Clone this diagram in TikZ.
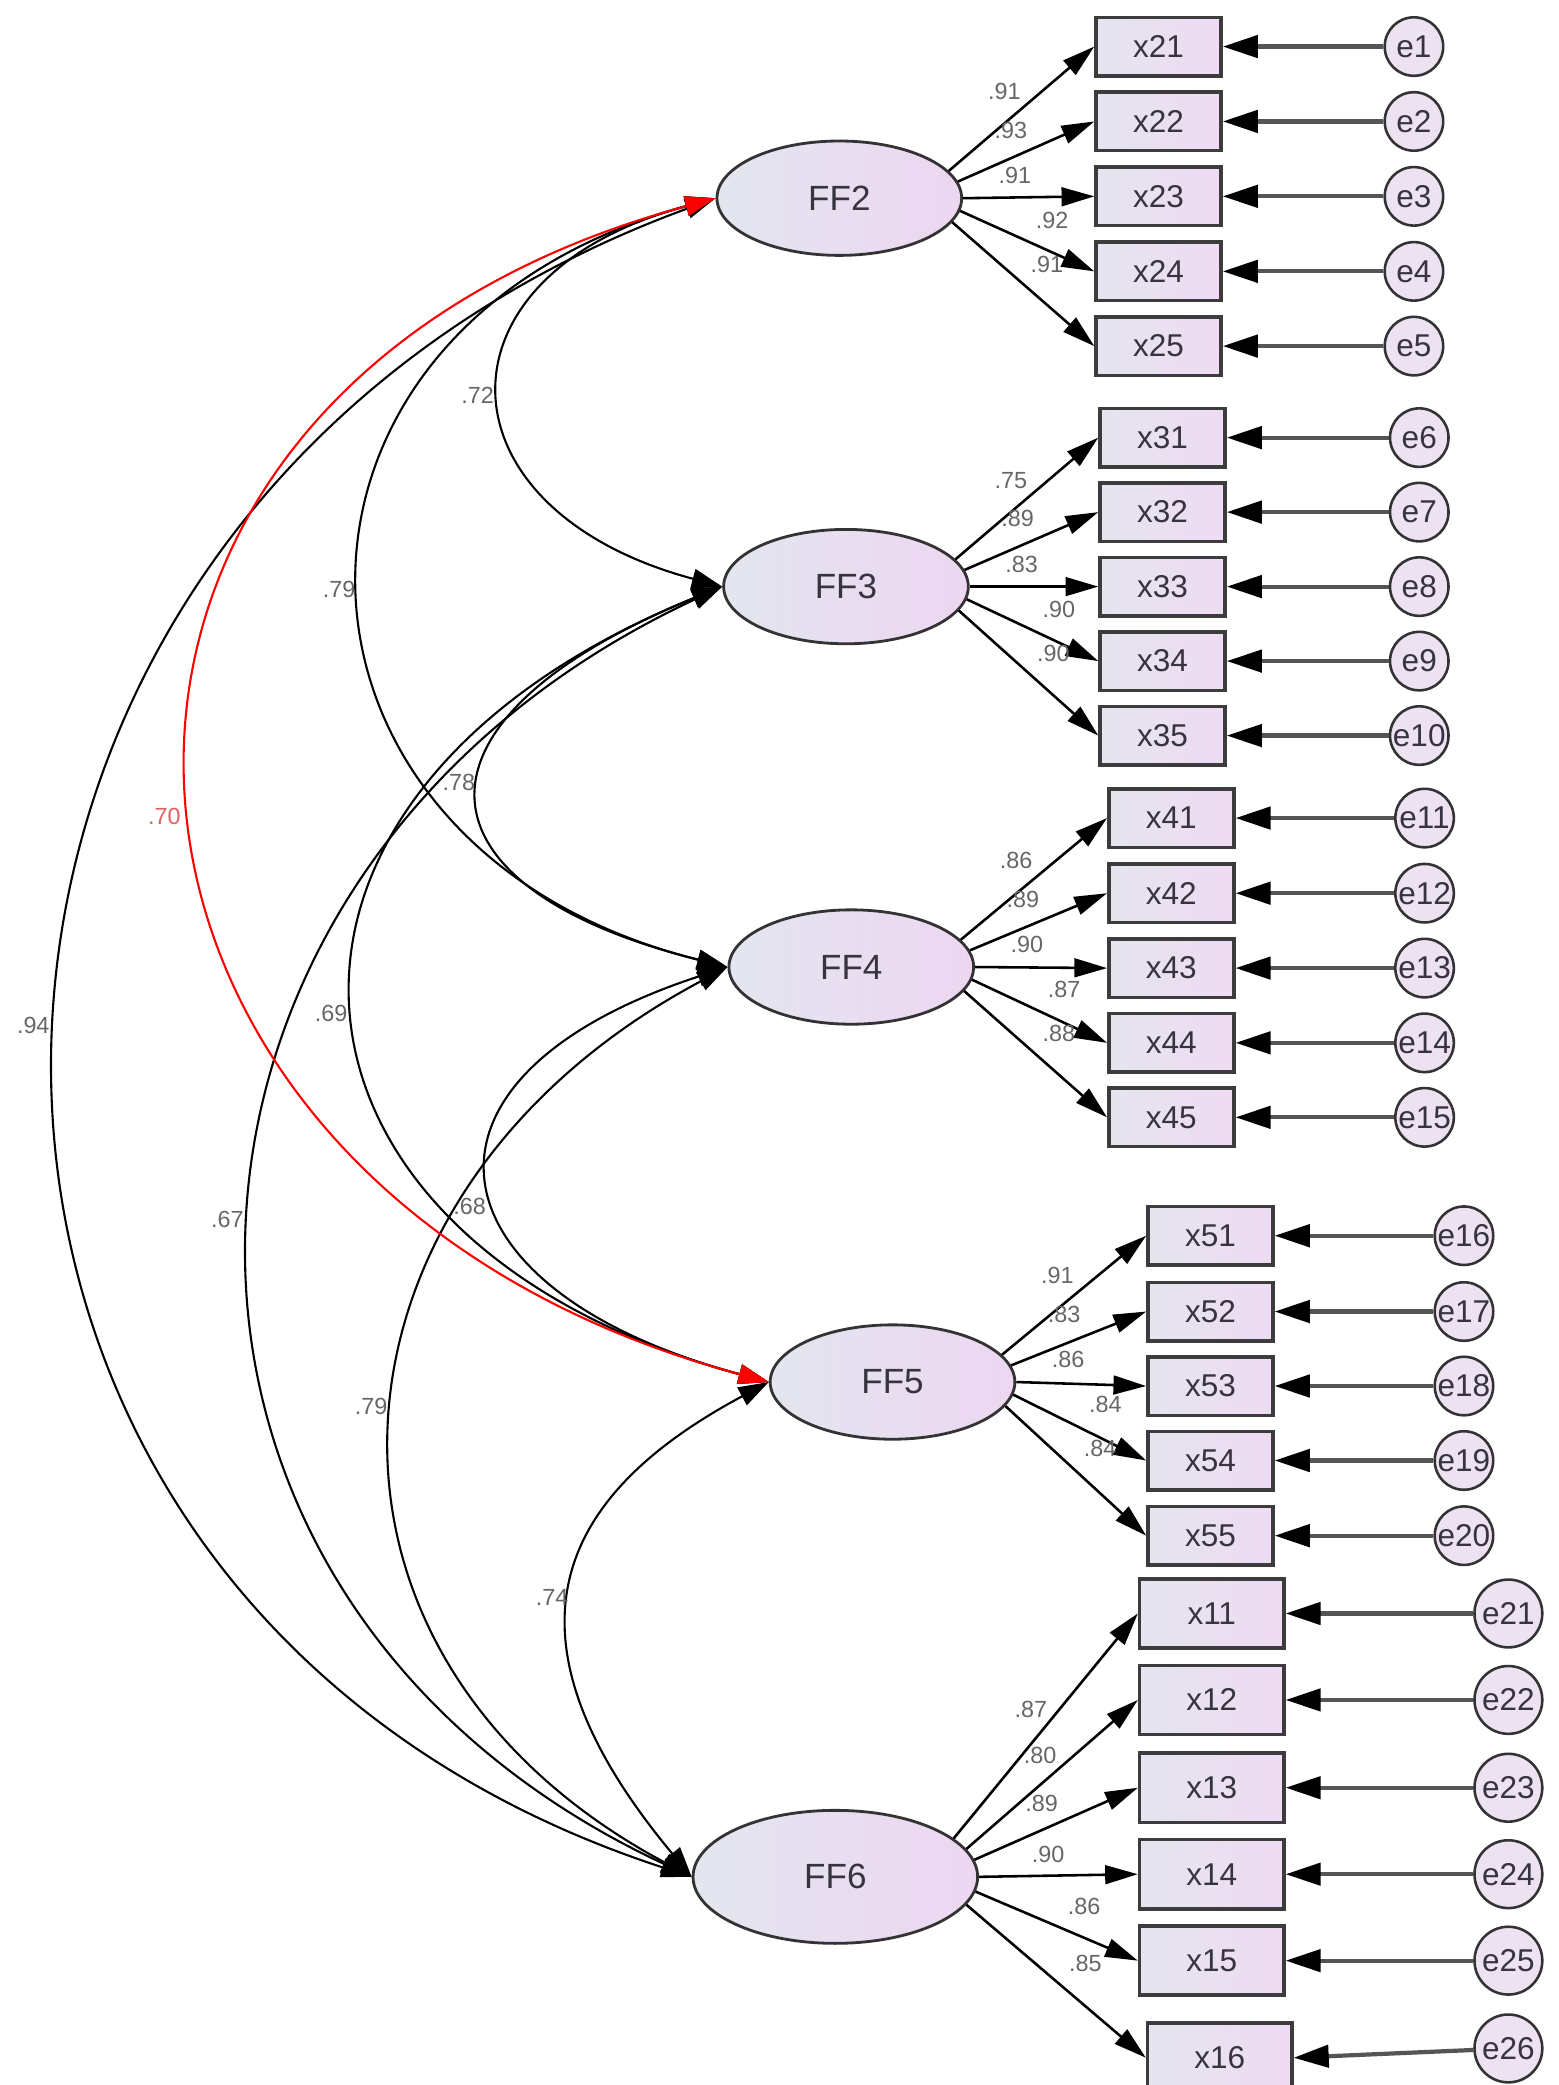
\documentclass[tikz,border=0pt]{standalone}
\usepackage{fontspec}
\setmainfont{Liberation Sans}
\usetikzlibrary{arrows.meta,shapes.geometric}
\definecolor{edgec}{HTML}{333333}
\definecolor{boxedge}{HTML}{3C3C3C}
\definecolor{latL}{HTML}{E3E6EF}
\definecolor{latR}{HTML}{EDD6F1}
\definecolor{boxL}{HTML}{E4E5EE}
\definecolor{boxR}{HTML}{EFDBF3}
\definecolor{errfill}{HTML}{ECE2F2}
\definecolor{txt}{HTML}{383340}
\definecolor{labgray}{HTML}{666666}
\definecolor{redlab}{HTML}{E06060}
\definecolor{eline}{HTML}{555555}
\tikzset{
  lat/.style={ellipse, draw=edgec, line width=1.2pt, left color=latL, right color=latR,
    minimum width=3.68cm, minimum height=1.72cm, inner sep=0pt,
    font=\fontsize{15}{18}\selectfont, text=txt},
  obs/.style={rectangle, draw=boxedge, line width=1.5pt, left color=boxL, right color=boxR,
    minimum width=1.88cm, minimum height=0.88cm, inner sep=0pt,
    font=\fontsize{13.5}{16}\selectfont, text=txt},
  obsL/.style={obs, minimum width=2.17cm, minimum height=1.04cm},
  err/.style={circle, draw=edgec, line width=1.1pt, fill=errfill, minimum size=0.88cm,
    inner sep=0pt, font=\fontsize{13.5}{16}\selectfont, text=txt},
  errL/.style={err, minimum size=1.02cm},
  load/.style={draw=black, line width=1.1pt, -{Triangle[length=14pt,width=8pt]}},
  eline/.style={draw=eline, line width=1.8pt, -{Triangle[length=15pt,width=9.5pt,color=black]}},
  cov/.style={draw=black, line width=0.9pt,
    {Triangle[length=13pt,width=8.5pt]}-{Triangle[length=13pt,width=8.5pt]}},
  covred/.style={cov, draw=red},
  lab/.style={font=\fontsize{10}{12}\selectfont, text=labgray, inner sep=0pt},
}
\begin{document}
\begin{tikzpicture}[x=0.02cm,y=-0.02cm]
\useasboundingbox (0,0) rectangle (1172,1567.5);
\fill[white] (0,0) rectangle (1172,1567.5);

% latent factors
\node[lat] (FF2) at (631,149) {FF2};
\node[lat] (FF3) at (636,441) {FF3};
\node[lat] (FF4) at (640,727) {FF4};
\node[lat] (FF5) at (671,1039) {FF5};
\node[lat, minimum width=4.28cm, minimum height=2.0cm] (FF6) at (628,1411) {FF6};

% indicators and errors
\foreach \i/\y in {1/35,2/91.3,3/147.6,4/204,5/260.2}{
  \pgfmathtruncatemacro\en{\i}
  \node[obs] (x2\i) at (871,\y) {x2\i};
  \node[err] (e\en) at (1063,\y) {e\en};
}
\foreach \i/\y in {1/329,2/385,3/441,4/497,5/553}{
  \pgfmathtruncatemacro\en{\i+5}
  \node[obs] (x3\i) at (874,\y) {x3\i};
  \node[err] (e\en) at (1067,\y) {e\en};
}
\foreach \i/\y in {1/615,2/671.5,3/727.8,4/784,5/840}{
  \pgfmathtruncatemacro\en{\i+10}
  \node[obs] (x4\i) at (880.6,\y) {x4\i};
  \node[err] (e\en) at (1071,\y) {e\en};
}
\foreach \i/\y in {1/929,2/986,3/1042,4/1098,5/1154.5}{
  \pgfmathtruncatemacro\en{\i+15}
  \node[obs] (x5\i) at (910,\y) {x5\i};
  \node[err] (e\en) at (1100.6,\y) {e\en};
}
\foreach \i/\y in {1/1213,2/1278,3/1344,4/1409,5/1474}{
  \pgfmathtruncatemacro\en{\i+20}
  \node[obsL] (x1\i) at (911,\y) {x1\i};
  \node[errL] (e\en) at (1134,\y) {e\en};
}
\node[obsL] (x16) at (917,1547) {x16};
\node[errL] (e26) at (1134,1540) {e26};

% error arrows
\foreach \i in {1,...,5}{
  \pgfmathtruncatemacro\a{\i}
  \pgfmathtruncatemacro\b{\i+5}
  \pgfmathtruncatemacro\c{\i+10}
  \pgfmathtruncatemacro\d{\i+15}
  \pgfmathtruncatemacro\f{\i+20}
  \draw[eline] (e\a) -- (x2\i.east);
  \draw[eline] (e\b) -- (x3\i.east);
  \draw[eline] (e\c) -- (x4\i.east);
  \draw[eline] (e\d) -- (x5\i.east);
  \draw[eline] (e\f) -- (x1\i.east);
}
\draw[eline] (e26) -- (x16.east);

% loadings
\foreach \i/\a in {1/14,2/8,3/0,4/354,5/348}{
  \draw[load] (FF2.\a) -- (x2\i.west);
  \draw[load] (FF3.\a) -- (x3\i.west);
  \draw[load] (FF4.\a) -- (x4\i.west);
  \draw[load] (FF5.\a) -- (x5\i.west);
}
\foreach \i/\a in {1/18,2/12,3/7,4/0,5/354,6/348}{
  \draw[load] (FF6.\a) -- (x1\i.west);
}

% loading labels
\foreach \n/\dx/\dy/\t in {2/124/-80/.91, 2/129/-51/.93, 2/132/-17/.91, 2/160/17/.92, 2/156/50/.91}{}
\node[lab] (l21) at (755,69) {.91};
\node[lab] (l22) at (760,98) {.93};
\node[lab] (l23) at (763,132) {.91};
\node[lab] (l24) at (791,166) {.92};
\node[lab] (l25) at (787,199) {.91};
\node[lab] (l31) at (760,361) {.75};
\node[lab] (l32) at (765,390) {.89};
\node[lab] (l33) at (768,424) {.83};
\node[lab] (l34) at (796,458) {.90};
\node[lab] (l35) at (792,491) {.90};
\node[lab] (l41) at (764,647) {.86};
\node[lab] (l42) at (769,676) {.89};
\node[lab] (l43) at (772,710) {.90};
\node[lab] (l44) at (800,744) {.87};
\node[lab] (l45) at (796,777) {.88};
\node[lab] (l51) at (795,959) {.91};
\node[lab] (l52) at (800,988) {.83};
\node[lab] (l53) at (803,1022) {.86};
\node[lab] (l54) at (831,1056) {.84};
\node[lab] (l55) at (827,1089) {.84};
\node[lab] (l11) at (775,1285) {.87};
\node[lab] (l12) at (782,1320) {.80};
\node[lab] (l13) at (783,1356) {.89};
\node[lab] (l14) at (788,1394) {.90};
\node[lab] (l15) at (815,1433) {.86};
\node[lab] (l16) at (816,1476) {.85};

% covariances
\draw[cov] (FF2.west) .. controls (321,207) and (326,383) .. (FF3.west);
\draw[cov] (FF2.west) .. controls (178,247) and (187,637) .. (FF4.west);
\draw[cov] (FF2.west) .. controls (-109,386) and (-127,1200) .. (FF6.west);
\draw[cov] (FF3.west) .. controls (299,540) and (303,666) .. (FF4.west);
\draw[cov] (FF3.west) .. controls (153,599) and (188,934) .. (FF5.west);
\draw[cov] (FF3.west) .. controls (87,654) and (64,1198) .. (FF6.west);
\draw[cov] (FF4.west) .. controls (290,811) and (321,970) .. (FF5.west);
\draw[cov] (FF4.west) .. controls (231,895) and (204,1242) .. (FF6.west);
\draw[cov] (FF5.west) .. controls (423,1122) and (365,1225) .. (FF6.west);
\draw[covred] (FF2.west) .. controls (-14,298) and (26,891) .. (FF5.west);

% covariance labels
\node[lab] (c23) at (359,297) {.72};
\node[lab] (c24) at (255,443) {.79};
\node[lab, text=redlab] (c25) at (123.5,614) {.70};
\node[lab] (c26) at (25,771) {.94};
\node[lab] (c34) at (345,588) {.78};
\node[lab] (c35) at (249,762) {.69};
\node[lab] (c36) at (171,917) {.67};
\node[lab] (c45) at (353,907) {.68};
\node[lab] (c46) at (279,1057) {.79};
\node[lab] (c56) at (415,1201) {.74};
\end{tikzpicture}
\end{document}
